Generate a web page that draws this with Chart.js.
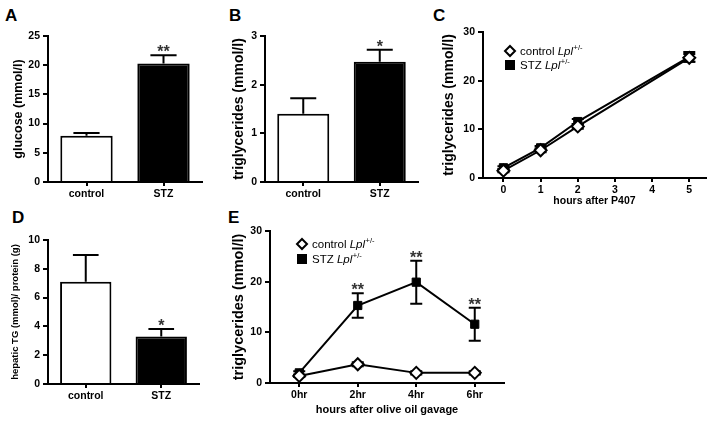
<!DOCTYPE html>
<html>
<head>
<meta charset="utf-8">
<script src="https://cdn.jsdelivr.net/npm/chart.js@4.4.0/dist/chart.umd.min.js"></script>
<style>
  body { margin: 0; background: #fff; width: 714px; height: 423px; position: relative; overflow: hidden; font-family: 'Liberation Sans', Arial, sans-serif; }
  canvas { position: absolute; }
  .panel { position: absolute; font-weight: bold; font-size: 17px; line-height: 17px; color: #000; }
</style>
</head>
<body>
<div class="panel" style="left:5px;top:7px">A</div>
<div class="panel" style="left:229px;top:7px">B</div>
<div class="panel" style="left:433px;top:7px">C</div>
<div class="panel" style="left:12px;top:209px">D</div>
<div class="panel" style="left:228px;top:209px">E</div>

<canvas id="chartA" width="230" height="210" style="left:0;top:0"></canvas>
<canvas id="chartB" width="210" height="210" style="left:230px;top:0"></canvas>
<canvas id="chartC" width="274" height="210" style="left:440px;top:0"></canvas>
<canvas id="chartD" width="230" height="213" style="left:0;top:210px"></canvas>
<canvas id="chartE" width="300" height="213" style="left:230px;top:210px"></canvas>

<script>
// A - plasma glucose
const groupLabels = ['control', 'STZ'];
const glucoseMean = [7.9, 20.3];
const glucoseSem = [0.5, 1.4];
const glucoseStars = ['', '**'];

// B - plasma triglycerides
const tgMean = [1.4, 2.47];
const tgSem = [0.32, 0.25];
const tgStars = ['', '*'];

// C - TG secretion after P407
const p407Hours = [0, 1, 2, 5];
const p407Ticks = [0, 1, 2, 3, 4, 5];
const p407Control = [1.5, 5.7, 10.6, 24.7];
const p407ControlSem = [0.3, 0.4, 0.5, 0.8];
const p407Stz = [2.1, 6.2, 11.6, 24.9];
const p407StzSem = [0.3, 0.4, 0.5, 1.0];

// D - hepatic TG
const hepaticMean = [7.1, 3.3];
const hepaticSem = [1.85, 0.52];
const hepaticStars = ['', '*'];

// E - olive oil gavage
const gavageLabels = ['0hr', '2hr', '4hr', '6hr'];
const gavageControl = [1.4, 3.7, 2.0, 2.0];
const gavageControlSem = [0.2, 0.4, 0.3, 0.3];
const gavageStz = [2.0, 15.3, 19.9, 11.6];
const gavageStzSem = [0.3, 2.4, 4.25, 3.25];
const gavageStars = ['', '**', '**', '**'];

const FONT = "'Liberation Sans', Arial, sans-serif";
Chart.defaults.font.family = FONT;
Chart.defaults.color = '#000';

function valueOf(ds, i) {
    const d = ds.data[i];
    return (d !== null && typeof d === 'object') ? d.y : d;
}

function drawErrors(chart) {
    const ctx = chart.ctx;
    const yScale = chart.scales.y;
    const isBar = chart.config.type === 'bar';
    chart.data.datasets.forEach((ds, di) => {
        if (!ds.errors) return;
        const meta = chart.getDatasetMeta(di);
        meta.data.forEach((el, i) => {
            const v = valueOf(ds, i);
            const e = ds.errors[i];
            if (v == null || !e) return;
            const top = yScale.getPixelForValue(v + e);
            const bot = isBar ? el.y : yScale.getPixelForValue(v - e);
            const half = isBar ? el.width / 4 : 6;
            ctx.save();
            ctx.strokeStyle = '#000';
            ctx.lineWidth = 2;
            ctx.beginPath();
            ctx.moveTo(el.x, bot);
            ctx.lineTo(el.x, top);
            ctx.moveTo(el.x - half, top);
            ctx.lineTo(el.x + half, top);
            if (!isBar) {
                ctx.moveTo(el.x - half, bot);
                ctx.lineTo(el.x + half, bot);
            }
            ctx.stroke();
            ctx.restore();
        });
    });
}

function drawStars(chart) {
    const ctx = chart.ctx;
    const yScale = chart.scales.y;
    chart.data.datasets.forEach((ds, di) => {
        if (!ds.stars) return;
        const meta = chart.getDatasetMeta(di);
        meta.data.forEach((el, i) => {
            if (!ds.stars[i]) return;
            const v = valueOf(ds, i) + (ds.errors ? ds.errors[i] : 0);
            ctx.save();
            ctx.fillStyle = '#333';
            ctx.font = 'bold 16px ' + FONT;
            ctx.textAlign = 'center';
            ctx.textBaseline = 'alphabetic';
            ctx.fillText(ds.stars[i], el.x, yScale.getPixelForValue(v) + 2);
            ctx.restore();
        });
    });
}

const errorBarPlugin = {
    id: 'errorBars',
    beforeDatasetsDraw(chart) {
        if (chart.config.type === 'line') drawErrors(chart);
    },
    afterDatasetsDraw(chart) {
        if (chart.config.type === 'bar') drawErrors(chart);
        drawStars(chart);
    }
};

// legend with italic gene name and superscript genotype
function drawMarker(ctx, style, x, y) {
    ctx.save();
    ctx.lineWidth = 2;
    ctx.strokeStyle = '#000';
    ctx.beginPath();
    if (style === 'rectRot') {
        const r = 5;
        ctx.moveTo(x, y - r);
        ctx.lineTo(x + r, y);
        ctx.lineTo(x, y + r);
        ctx.lineTo(x - r, y);
        ctx.closePath();
        ctx.fillStyle = '#fff';
    } else {
        ctx.rect(x - 4, y - 4, 8, 8);
        ctx.fillStyle = '#000';
    }
    ctx.fill();
    ctx.stroke();
    ctx.restore();
}

const legendPlugin = {
    id: 'panelLegend',
    afterDraw(chart, args, opts) {
        if (!opts.items) return;
        const ctx = chart.ctx;
        opts.items.forEach((it, k) => {
            const y = opts.y + k * opts.gap;
            drawMarker(ctx, it.style, opts.x, y);
            ctx.save();
            ctx.fillStyle = '#000';
            ctx.textBaseline = 'middle';
            let x = opts.x + 10;
            ctx.font = '11.5px ' + FONT;
            ctx.fillText(it.label, x, y + 1);
            x += ctx.measureText(it.label).width;
            ctx.font = 'italic 11.5px ' + FONT;
            ctx.fillText(it.italic, x, y + 1);
            x += ctx.measureText(it.italic).width;
            ctx.font = '7.5px ' + FONT;
            ctx.fillText(it.sup, x + 0.5, y - 3);
            ctx.restore();
        });
    }
};

function valueAxis(min, max, step, title, size, pad, width) {
    return {
        min: min,
        max: max,
        border: { display: true, color: '#000', width: 2 },
        grid: { drawOnChartArea: false, drawTicks: true, tickLength: 5, color: '#000', lineWidth: 2 },
        ticks: { stepSize: step, font: { size: 10.5, weight: 'bold' }, color: '#000', padding: 3 },
        title: { display: true, text: title, color: '#000', font: { size: size, weight: 'bold' }, padding: { top: pad, bottom: 0 } },
        afterFit(s) { s.width = width; }
    };
}

function groupAxis(height) {
    return {
        type: 'category',
        offset: true,
        border: { display: true, color: '#000', width: 2 },
        grid: { offset: false, drawOnChartArea: false, drawTicks: true, tickLength: 4, color: '#000', lineWidth: 2 },
        ticks: { font: { size: 10.5, weight: 'bold' }, color: '#000', padding: 2 },
        afterFit(s) { s.height = height; }
    };
}

function baseOptions(w, h, area) {
    return {
        responsive: false,
        animation: false,
        devicePixelRatio: 1,
        layout: { padding: { left: 0, right: w - area.right, top: area.top, bottom: 0 } },
        plugins: { legend: { display: false }, tooltip: { enabled: false } }
    };
}

function barPanel(id, w, h, area, mean, sem, stars, yMin, yMax, step, title, size, pad) {
    const opts = baseOptions(w, h, area);
    opts.scales = {
        x: groupAxis(h - area.bottom),
        y: valueAxis(yMin, yMax, step, title, size, pad, area.left)
    };
    new Chart(document.getElementById(id), {
        type: 'bar',
        data: {
            labels: groupLabels,
            datasets: [{
                data: mean,
                errors: sem,
                stars: stars,
                backgroundColor: ['#fff', '#000'],
                borderColor: '#000',
                borderWidth: 2,
                barPercentage: 0.68,
                categoryPercentage: 1
            }]
        },
        options: opts,
        plugins: [errorBarPlugin]
    });
}

function lineSet(data, sem, style, stars) {
    const isCtrl = style === 'rectRot';
    return {
        data: data,
        errors: sem,
        stars: stars,
        borderColor: '#000',
        borderWidth: 2,
        tension: 0,
        clip: false,
        pointStyle: style,
        pointRadius: isCtrl ? 6 : 5.8,
        pointBackgroundColor: isCtrl ? '#fff' : '#000',
        pointBorderColor: '#000',
        pointBorderWidth: isCtrl ? 2 : 1
    };
}

const legendItems = [
    { style: 'rectRot', label: 'control ', italic: 'Lpl', sup: '+/-' },
    { style: 'rect', label: 'STZ ', italic: 'Lpl', sup: '+/-' }
];

barPanel('chartA', 230, 210, { left: 48, right: 202, top: 36, bottom: 182 },
    glucoseMean, glucoseSem, glucoseStars, 0, 25, 5, 'glucose (mmol/l)', 12.5, 11.5);
barPanel('chartB', 210, 210, { left: 35, right: 188, top: 36, bottom: 182 },
    tgMean, tgSem, tgStars, 0, 3, 1, 'triglycerides (mmol/l)', 14, 0.6);
barPanel('chartD', 230, 213, { left: 48, right: 199, top: 30, bottom: 174 },
    hepaticMean, hepaticSem, hepaticStars, 0, 10, 2, 'hepatic TG (mmol)/ protein (g)', 9.5, 9.3);

// C
(function () {
    const area = { left: 43, right: 268, top: 32, bottom: 178 };
    const opts = baseOptions(274, 210, area);
    opts.scales = {
        x: {
            type: 'linear',
            min: -0.55,
            max: 5.45,
            border: { display: true, color: '#000', width: 2 },
            grid: { drawOnChartArea: false, drawTicks: true, tickLength: 4, color: '#000', lineWidth: 2 },
            ticks: { font: { size: 10.5, weight: 'bold' }, color: '#000', padding: 2 },
            afterBuildTicks(s) { s.ticks = p407Ticks.map(v => ({ value: v })); },
            title: { display: true, text: 'hours after P407', color: '#000', font: { size: 10.5, weight: 'bold' }, padding: { top: 0, bottom: 2.5 } },
            afterFit(s) { s.height = 210 - area.bottom; }
        },
        y: valueAxis(0, 30, 10, 'triglycerides (mmol/l)', 14, 0.6, area.left)
    };
    opts.plugins.panelLegend = { x: 70, y: 51, gap: 14, items: legendItems };
    new Chart(document.getElementById('chartC'), {
        type: 'line',
        data: {
            datasets: [
                lineSet(p407Hours.map((hr, i) => ({ x: hr, y: p407Control[i] })), p407ControlSem, 'rectRot'),
                lineSet(p407Hours.map((hr, i) => ({ x: hr, y: p407Stz[i] })), p407StzSem, 'rect')
            ]
        },
        options: opts,
        plugins: [errorBarPlugin, legendPlugin]
    });
})();

// E
(function () {
    const area = { left: 40, right: 274, top: 21, bottom: 173 };
    const opts = baseOptions(300, 213, area);
    const x = groupAxis(213 - area.bottom);
    x.title = { display: true, text: 'hours after olive oil gavage', color: '#000', font: { size: 11, weight: 'bold' }, padding: { top: 0, bottom: 6.4 } };
    opts.scales = {
        x: x,
        y: valueAxis(0, 30, 10, 'triglycerides (mmol/l)', 14.5, 0.3, area.left)
    };
    opts.plugins.panelLegend = { x: 72, y: 34, gap: 15, items: legendItems };
    new Chart(document.getElementById('chartE'), {
        type: 'line',
        data: {
            labels: gavageLabels,
            datasets: [
                lineSet(gavageControl, gavageControlSem, 'rectRot'),
                lineSet(gavageStz, gavageStzSem, 'rect', gavageStars)
            ]
        },
        options: opts,
        plugins: [errorBarPlugin, legendPlugin]
    });
})();
</script>
</body>
</html>
